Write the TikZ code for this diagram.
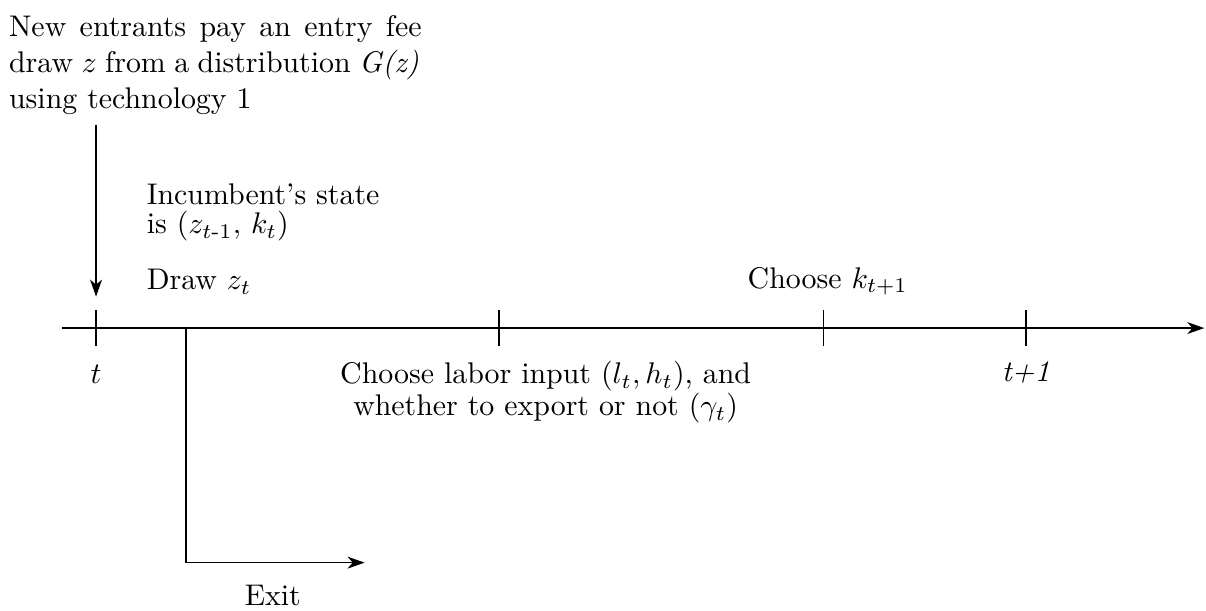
\documentclass[tikz,border=0pt]{standalone}
\usepackage{amsmath}
\usetikzlibrary{arrows.meta, positioning}

\begin{document}
\begin{tikzpicture}[
    every node/.style={inner sep=0pt},
    txt/.style={align=left, anchor=north west},
    arrow/.style={-{Stealth[length=2mm, width=1.4mm, inset=0.6mm]}, line width=0.5pt},
    tickmark/.style={line width=0.5pt}
]
\useasboundingbox (0,0) rectangle (14.19,-7.18);

% time line
\coordinate (start) at (0.73,-3.86);
\coordinate (end) at (14.17,-3.86);
\coordinate (tnow) at (1.13,-3.86);
\coordinate (texit) at (2.19,-3.86);
\coordinate (tlab) at (5.87,-3.86);
\coordinate (tcap) at (9.69,-3.86);
\coordinate (tnext) at (12.07,-3.86);
\draw[arrow] (start) -- (end);
\foreach \c in {tnow,tlab,tcap,tnext}
  \draw[tickmark] ([yshift=0.21cm]\c) -- ([yshift=-0.21cm]\c);

\node[txt] (entry) at (0.1,-0.18) {{\spaceskip=4.49pt New entrants pay an entry fee}\\{\spaceskip=2.83pt draw $z$ from a distribution \textit{G(z)}}\\using technology 1};
\coordinate (entrytop) at (1.13,-1.47);
\draw[arrow] (entrytop) -- ([yshift=0.37cm]tnow);

\node[txt, font=\fontsize{10}{10}\selectfont] (state) at (1.72,-2.15) {Incumbent's state\\is $(z_{t\text{-}1},\, k_t)$};
\node[anchor=base west] (drawz) at (1.72,-3.41) {Draw $z_t$};
\node[anchor=base] (tlabel) at (1.13,-4.51) {$t$};
\node[anchor=base] (nextlabel) at (12.07,-4.49) {\textit{t+1}};
\node[anchor=base] (kchoice) at (9.74,-3.39) {Choose $k_{t+1}$};
\node[align=center, anchor=north, font=\fontsize{10}{10.7}\selectfont] (labor) at (6.42,-4.245) {Choose labor input $(l_t, h_t)$, and\\whether to export or not $(\gamma_t)$};

% exit branch
\coordinate (exitcorner) at (2.19,-6.62);
\coordinate (exitend) at (4.29,-6.62);
\draw[arrow] (texit) -- (exitcorner) -- (exitend);
\node[anchor=base] (exit) at (3.21,-7.13) {Exit};

\end{tikzpicture}
\end{document}
